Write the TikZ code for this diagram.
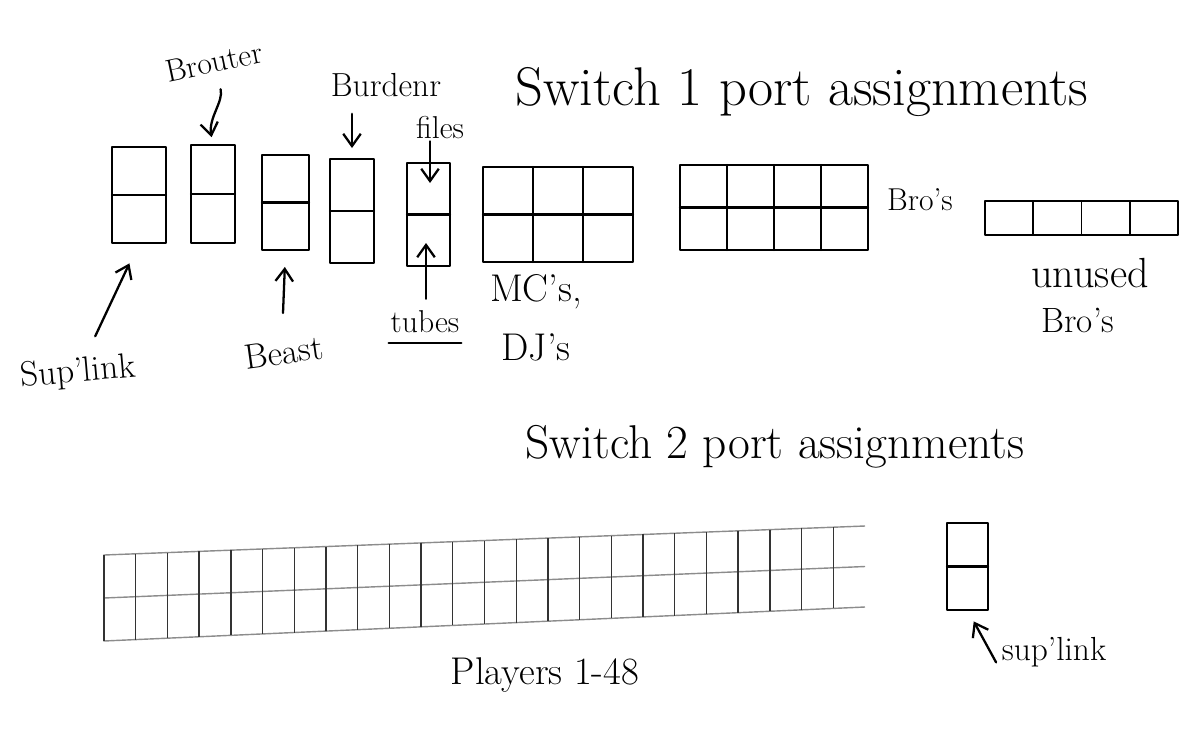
\documentclass[tikz,border=0pt]{standalone}
\usepackage{tikz}
\usetikzlibrary{calc,arrows.meta}

\tikzset{
  ink/.style={line width=1.3pt,line cap=round,line join=round},
  port/.style={draw,ink,rectangle,inner sep=0pt,outer sep=0pt},
  lbl/.style={font=\fontsize{18}{20}\selectfont,inner sep=1pt},
  arr/.style={ink,-{Straight Barb[length=7pt,width=10pt]}},
  strip/.style={line width=0.8pt,draw=black!45},
  slot/.style={line width=0.8pt,draw=black!80}
}

\begin{document}
\begin{tikzpicture}[x=0.02cm,y=-0.02cm]
            \useasboundingbox (0,0) rectangle (1200,741);

            % switch 1
            \node (title1) at (802,92) [font=\fontsize{31}{34}\selectfont] {Switch 1 port assignments};

            \node (b1) at (139,195) [port,minimum width=1.08cm,minimum height=1.92cm] {};
            \node (b2) at (213,194) [port,minimum width=0.88cm,minimum height=1.96cm] {};
            \node (b3) at (285.5,202.5) [port,minimum width=0.94cm,minimum height=1.9cm] {};
            \node (b4) at (352,211) [port,minimum width=0.88cm,minimum height=2.08cm] {};
            \node (b5) at (428.5,214.5) [port,minimum width=0.86cm,minimum height=2.06cm] {};
            \node (mc) at (558,214.5) [port,minimum width=3cm,minimum height=1.9cm] {};
            \node (bro) at (774,207.5) [port,minimum width=3.76cm,minimum height=1.7cm] {};
            \node (unused) at (1081.5,218) [port,line width=1pt,minimum width=3.86cm,minimum height=0.68cm] {};

            \foreach \b in {b1,b2,b3,b4,b5,mc,bro}
                \draw[ink] (\b.west) -- (\b.east);
            \foreach \i in {1,2}
                \draw[ink] ($(mc.north west)!\i/3!(mc.north east)$) -- ($(mc.south west)!\i/3!(mc.south east)$);
            \foreach \i in {1,2,3}
                \draw[ink] ($(bro.north west)!\i/4!(bro.north east)$) -- ($(bro.south west)!\i/4!(bro.south east)$);
            \foreach \i in {1,2,3}
                \draw[ink,line width=1pt] ($(unused.north west)!\i/4!(unused.north east)$) -- ($(unused.south west)!\i/4!(unused.south east)$);

            \node (brouter) at (214,62) [lbl,rotate=12] {Brouter};
            \node (burden) at (386,85) [lbl,font=\fontsize{19}{21}\selectfont] {Burdenr};
            \node (files) at (440,128) [lbl] {files};
            \node (suplink1) at (78,373) [lbl,rotate=5,font=\fontsize{20}{22}\selectfont] {Sup'link};
            \node (beast) at (284,352) [lbl,rotate=8,font=\fontsize{20}{22}\selectfont] {Beast};
            \node (tubes) at (425,322) [lbl] {tubes};
            \node (mcs) at (536,292) [lbl,font=\fontsize{22}{24}\selectfont] {MC's,};
            \node (djs) at (536,347) [lbl,font=\fontsize{22}{24}\selectfont] {DJ's};
            \node (brolabel) at (920,200) [lbl] {Bro's};
            \node (unusedlabel) at (1090,273) [lbl,font=\fontsize{24}{26}\selectfont] {unused};
            \node (unusedbro) at (1078,320) [lbl,font=\fontsize{20}{22}\selectfont] {Bro's};

            \coordinate (filestip) at (430,183);
            \coordinate (tubestip) at (426,243);

            \draw[arr,shorten <=0.3cm,shorten >=0.16cm] (brouter.south) to[out=-75,in=100] (b2.north);
            \draw[arr,shorten <=0.3cm,shorten >=0.22cm] (burden.south -| b4.north) -- (b4.north);
            \draw[arr] (files.south -| filestip) -- (filestip);
            \draw[arr,shorten <=0.2cm] (tubes.north -| tubestip) -- (tubestip);
            \draw[arr,shorten <=0.5cm,shorten >=0.34cm] (beast.north) -- (b3.south);
            \draw[arr,shorten <=0.4cm,shorten >=0.45cm] (suplink1.60) -- (b1.south);
            \draw[ink] ([yshift=-0.16cm]tubes.south west) -- ([yshift=-0.16cm]tubes.south east);

            % switch 2
            \node (title2) at (775,447) [font=\fontsize{27}{30}\selectfont] {Switch 2 port assignments};

            \coordinate (tl) at (104,555);
            \coordinate (tr) at (865,526);
            \coordinate (bl) at (104,641);
            \coordinate (br) at (865,607);
            \draw[strip] (tr) -- (tl) -- (bl) -- (br);
            \draw[strip] ($(tl)!0.5!(bl)$) -- ($(tr)!0.5!(br)$);
            \draw[slot] (tl) -- (bl);
            \foreach \i in {1,...,23}
                \draw[slot] ($(tl)!\i/24!(tr)$) -- ($(bl)!\i/24!(br)$);

            \node (players) at (545,675) [lbl,font=\fontsize{22}{24}\selectfont] {Players 1-48};

            \node (sw2sup) at (967.5,566.5) [port,minimum width=0.82cm,minimum height=1.74cm] {};
            \draw[ink] (sw2sup.west) -- (sw2sup.east);
            \node (suplink2) at (1054,652) [lbl,font=\fontsize{19}{21}\selectfont] {sup'link};
            \draw[arr,shorten <=0.15cm,shorten >=0.26cm] (suplink2.south west) -- (sw2sup.south);

        \end{tikzpicture}
\end{document}
